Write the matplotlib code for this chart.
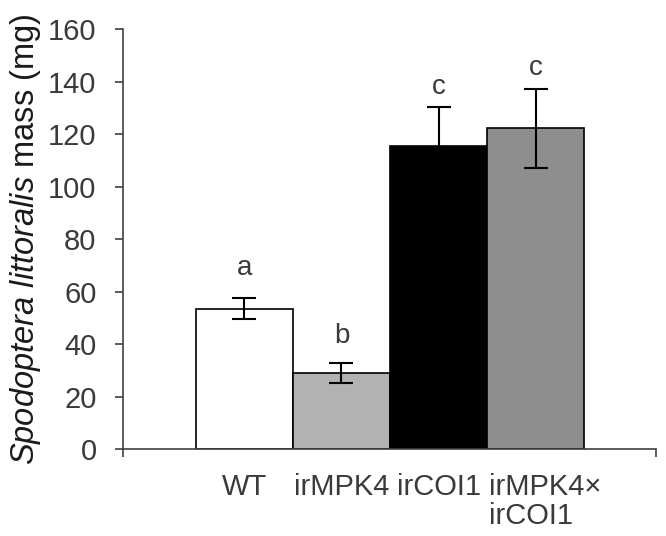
import numpy as np
import matplotlib
matplotlib.use('Agg')
import matplotlib.pyplot as plt
import matplotlib.transforms as mtransforms

plt.rcParams['font.family'] = ['Liberation Sans', 'DejaVu Sans']
plt.rcParams['mathtext.fontset'] = 'custom'
plt.rcParams['mathtext.it'] = 'Liberation Sans:italic'
plt.rcParams['mathtext.rm'] = 'Liberation Sans'

# data
labels = ['WT', 'irMPK4', 'irCOI1', 'irMPK4\u00d7\nirCOI1']
mass = [53.6, 29.0, 115.7, 122.3]
err = [4.1, 3.7, 14.7, 15.0]
letters = ['a', 'b', 'c', 'c']
letter_y = [69.0, 43.0, 138.0, 145.3]
colors = ['white', '#b2b2b2', 'black', '#8e8e8e']

txt = '#3a3a3a'
fig = plt.figure(figsize=(6.66, 5.36), dpi=100)
ax = fig.add_axes([0.1847, 0.1618, 0.8003, 0.7835])

x = np.arange(len(mass))
ax.bar(x, mass, width=1.0, color=colors, edgecolor='black', linewidth=1.2, zorder=2)
ax.errorbar(x, mass, yerr=err, fmt='none', ecolor='black', elinewidth=1.5,
            capsize=8.5, capthick=1.5, zorder=3)
for i in range(len(mass)):
    ax.text(x[i], letter_y[i], letters[i], ha='center', va='center',
            fontsize=20, color=txt)

ax.set_xlim(-1.25, 4.24)
ax.set_ylim(0, 160)
ax.set_yticks(np.arange(0, 161, 20))
ax.tick_params(axis='y', direction='out', length=6, width=1.2, pad=13,
               labelsize=21, labelcolor=txt, color='#404040')
ax.set_xticks(x)
ax.set_xticklabels(labels, fontsize=21, color=txt, va='top', linespacing=1.05)
ax.tick_params(axis='x', which='major', length=0, pad=17)
ax.set_xticks([-1.25, 4.24], minor=True)
ax.tick_params(axis='x', which='minor', direction='out', length=6, width=1.2,
               color='#404040')

# last label: nudge right, lines left-aligned like the original
last = ax.get_xticklabels()[-1]
last.set_multialignment('left')
last.set_transform(last.get_transform() +
                   mtransforms.ScaledTranslation(10 / 100, 0, fig.dpi_scale_trans))

for s in ['top', 'right']:
    ax.spines[s].set_visible(False)
for s in ['left', 'bottom']:
    ax.spines[s].set_color('#404040')
    ax.spines[s].set_linewidth(1.2)

ax.set_ylabel(r'$\it{Spodoptera\ littoralis}$ mass (mg)', fontsize=23.5,
              color='#1a1a1a', labelpad=4)

fig.savefig('out.png', dpi=100)
